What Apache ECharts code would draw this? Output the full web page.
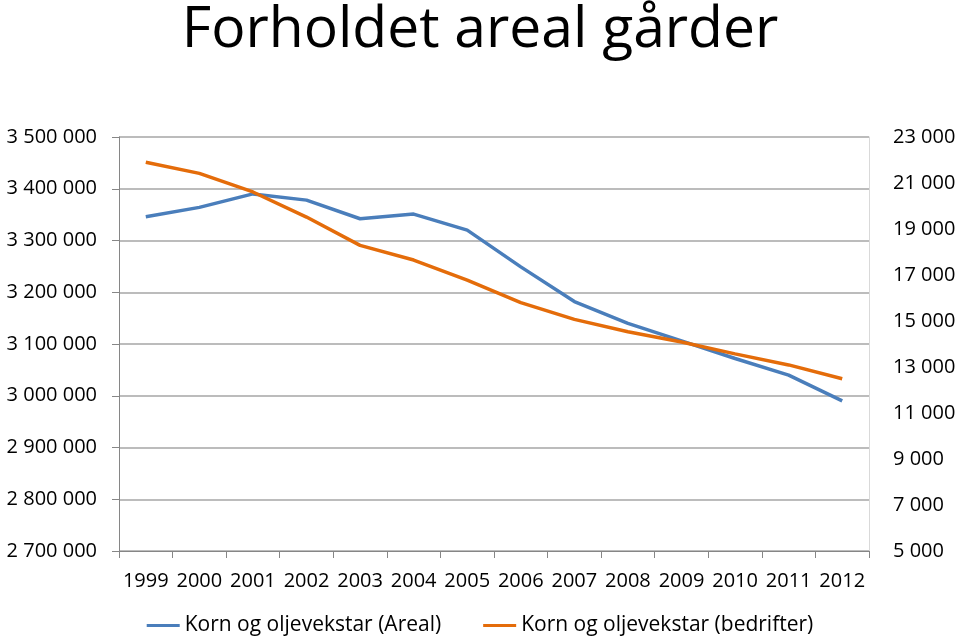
<!DOCTYPE html>
<html><head><meta charset="utf-8">
<script src="https://cdn.jsdelivr.net/npm/echarts@6/dist/echarts.min.js"></script>
<style>html,body{margin:0;padding:0;background:#fff}#c{width:960px;height:638px}</style>
</head><body><div id="c"></div>
<script>
const years = ['1999','2000','2001','2002','2003','2004','2005','2006','2007','2008','2009','2010','2011','2012'];
const areal = [3346000,3364000,3390000,3378000,3342000,3351000,3320000,3249000,3182000,3140000,3106000,3072000,3040000,2990000];
const bedrifter = [21900,21420,20610,19520,18290,17650,16780,15800,15070,14530,14090,13570,13090,12490];
const seriesNames = ['Korn og oljevekstar (Areal)','Korn og oljevekstar (bedrifter)'];
const titleText = 'Forholdet areal gårder';

const FONT = '"Open Sans",sans-serif';
const fmt = v => String(v).replace(/\B(?=(\d{3})+(?!\d))/g, ' ');
const chart = echarts.init(document.getElementById('c'), null, {renderer:'canvas'});
chart.setOption({
  animation:false,
  backgroundColor:'#fff',
  title:{text:titleText,left:'center',top:-3,textStyle:{fontFamily:FONT,fontSize:57,fontWeight:'normal',color:'#000'}},
  legend:{top:610,left:'center',itemWidth:33,itemHeight:3,itemGap:42,icon:'rect',
    textStyle:{fontFamily:FONT,fontSize:21,color:'#000'},data:seriesNames},
  grid:{left:119,right:91,top:137,bottom:87,containLabel:false},
  xAxis:{type:'category',data:years,boundaryGap:true,
    axisLine:{lineStyle:{color:'#868686'}},
    axisTick:{show:true,length:7,interval:0,lineStyle:{color:'#868686'}},
    axisLabel:{fontFamily:FONT,fontSize:20,color:'#000',margin:20,interval:0}},
  yAxis:[
    {type:'value',min:2700000,max:3500000,interval:100000,
      axisLine:{show:true,lineStyle:{color:'#868686'}},
      axisTick:{show:true,length:7,lineStyle:{color:'#868686'}},
      splitLine:{lineStyle:{color:'#a6a6a6',width:1.5}},
      axisLabel:{fontFamily:FONT,fontSize:20,color:'#000',margin:22,formatter:fmt}},
    {type:'value',min:5000,max:23000,interval:2000,position:'right',
      axisLine:{show:true,lineStyle:{color:'#d9d9d9'}},
      axisTick:{show:false},splitLine:{show:false},
      axisLabel:{fontFamily:FONT,fontSize:20,color:'#000',margin:24,formatter:fmt}}
  ],
  series:[
    {name:seriesNames[0],type:'line',yAxisIndex:0,data:areal,symbol:'none',
      lineStyle:{color:'#4A7EBB',width:3.5},itemStyle:{color:'#4A7EBB'}},
    {name:seriesNames[1],type:'line',yAxisIndex:1,data:bedrifter,symbol:'none',
      lineStyle:{color:'#E46C0A',width:3.5},itemStyle:{color:'#E46C0A'}}
  ]
});
</script></body></html>
